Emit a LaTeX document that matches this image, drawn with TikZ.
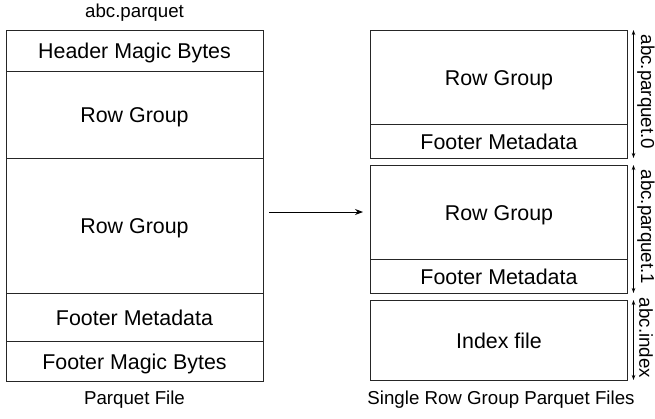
\documentclass[tikz,border=0pt]{standalone}
\usepackage{fontspec}
\setmainfont{Liberation Sans}
\usetikzlibrary{arrows.meta}
\begin{document}
\begin{tikzpicture}[x=1pt,y=-1pt,
  cell/.style={draw=black!85, line width=0.9pt, inner sep=0pt, outer sep=0pt,
    minimum width=257pt, text height=16pt, text depth=0pt,
    font=\fontsize{21.4}{24}\selectfont},
  lbl/.style={inner sep=0pt, font=\fontsize{18.7}{22}\selectfont},
  span/.style={line width=0.8pt, {Stealth[length=5pt,width=3.5pt]}-{Stealth[length=5pt,width=3.5pt]}},
  flow/.style={line width=0.9pt, -{Stealth[length=8pt,width=6pt]}}]
\useasboundingbox (0,0) rectangle (655,418);
% left column
\node[lbl] (t1) at (134.5,13) {abc.parquet};
\node[cell, minimum height=41pt] (hmb) at (134.5,50.5) {Header Magic Bytes};
\node[cell, minimum height=87pt] (rg1) at (134.5,114.5) {Row Group};
\node[cell, minimum height=135pt] (rg2) at (134.5,225.5) {Row Group};
\node[cell, minimum height=48pt] (fmd) at (134.5,317) {Footer Metadata};
\node[cell, minimum height=40pt] (fmb) at (134.5,361) {Footer Magic Bytes};
\node[lbl] (t2) at (134.5,400) {Parquet File};
% right column
\node[cell, minimum height=94pt] (r0) at (499,77) {Row Group};
\node[cell, minimum height=34pt] (f0) at (499,141) {Footer Metadata};
\node[cell, minimum height=94pt] (r1) at (499,212) {Row Group};
\node[cell, minimum height=34pt] (f1) at (499,276) {Footer Metadata};
\node[cell, minimum height=80pt] (ix) at (499,340) {Index file};
\node[lbl] (t3) at (501,400) {Single Row Group Parquet Files};
% arrow
\coordinate (as) at (269,212);
\coordinate (ae) at (363,212);
\draw[flow] (as) -- (ae);
% spans
\draw[span] ([xshift=6pt]r0.north east) -- ([xshift=6pt]f0.south east);
\draw[span] ([xshift=6pt]r1.north east) -- ([xshift=6pt]f1.south east);
\draw[span] ([xshift=6pt]ix.north east) -- ([xshift=6pt]ix.south east);
\node[lbl, rotate=-90] (l0) at (646,92) {abc.parquet.0};
\node[lbl, rotate=-90] (l1) at (646,227) {abc.parquet.1};
\node[lbl, rotate=-90] (l2) at (646,338) {abc.index};
\end{tikzpicture}
\end{document}
